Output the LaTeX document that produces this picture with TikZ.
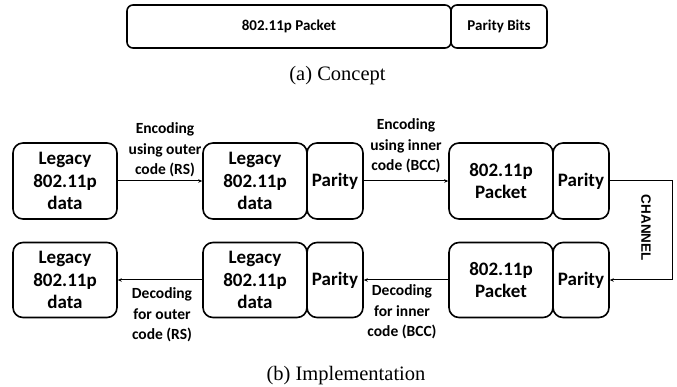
\documentclass[tikz,border=0pt]{standalone}
\usepackage{fontspec}
\newfontfamily\carl{Carlito}
\newfontfamily\capfont{Liberation Serif}
\newfontfamily\arialf{Liberation Sans}
\usetikzlibrary{arrows.meta}
\begin{document}
\begin{tikzpicture}[x=1pt,y=-1pt,
  box/.style={draw,line width=1.6pt,rounded corners=10pt,inner sep=0pt,align=center,
     minimum height=76pt,font=\carl\bfseries\fontsize{19}{22.5}\selectfont},
  wbox/.style={box,minimum width=104pt},
  pbox/.style={box,minimum width=56pt},
  topbox/.style={draw,line width=1.6pt,rounded corners=6pt,inner sep=0pt,minimum height=43pt,
     font=\carl\bfseries\fontsize{15}{18}\selectfont},
  lab/.style={inner sep=0pt,align=center,font=\carl\bfseries\fontsize{15.5}{20.5}\selectfont},
  captext/.style={inner sep=0pt,anchor=base,font=\capfont\fontsize{20.5}{24}\selectfont},
  arr/.style={line width=1pt,-{Stealth[length=4pt,width=3.5pt]}}
]
\useasboundingbox (0,0) rectangle (677,387);
% (a) concept
\node[topbox,minimum width=324pt] (pk) at (289,26.5) {802.11p Packet};
\node[topbox,minimum width=96pt] (pb) at (499,26.5) {Parity Bits};
\node[captext] (capa) at (337.5,81) {(a)\ Concept};
% row 1
\node[wbox] (a1) at (65,181) {Legacy\\802.11p\\data};
\node[wbox] (a2) at (255,181) {Legacy\\802.11p\\data};
\node[pbox] (a2p) at (335,181) {Parity};
\node[wbox] (a3) at (501,181) {802.11p\\Packet};
\node[pbox] (a3p) at (581,181) {Parity};
% row 2
\node[wbox,minimum height=75pt] (b1) at (65,280) {Legacy\\802.11p\\data};
\node[wbox,minimum height=75pt] (b2) at (255,280) {Legacy\\802.11p\\data};
\node[pbox,minimum height=75pt] (b2p) at (335,280) {Parity};
\node[wbox,minimum height=75pt] (b3) at (501,280) {802.11p\\Packet};
\node[pbox,minimum height=75pt] (b3p) at (581,280) {Parity};
% connectors
\draw[arr] (a1) -- (a2);
\draw[arr] (a2p) -- (a3);
\coordinate (c1) at (672,181);
\coordinate (c2) at (672,280);
\draw[arr] (a3p.east) -- (c1) -- (c2) -- (b3p.east);
\draw[arr] (b3) -- (b2p);
\draw[arr] (b2) -- (b1);
% labels
\node[lab] (l1) at (165,150) {Encoding\\using outer\\code (RS)};
\node[lab] (l2) at (406,146) {Encoding\\using inner\\code (BCC)};
\node[lab] (l3) at (402,312) {Decoding\\for inner\\code (BCC)};
\node[lab] (l4) at (162,315) {Decoding\\for outer\\code (RS)};
\node[inner sep=0pt,rotate=-90,font=\arialf\bfseries\fontsize{13.5}{16}\selectfont] (ch) at (646,228) {CHANNEL};
\node[captext] (capb) at (346,380) {(b)\ Implementation};
\end{tikzpicture}
\end{document}
